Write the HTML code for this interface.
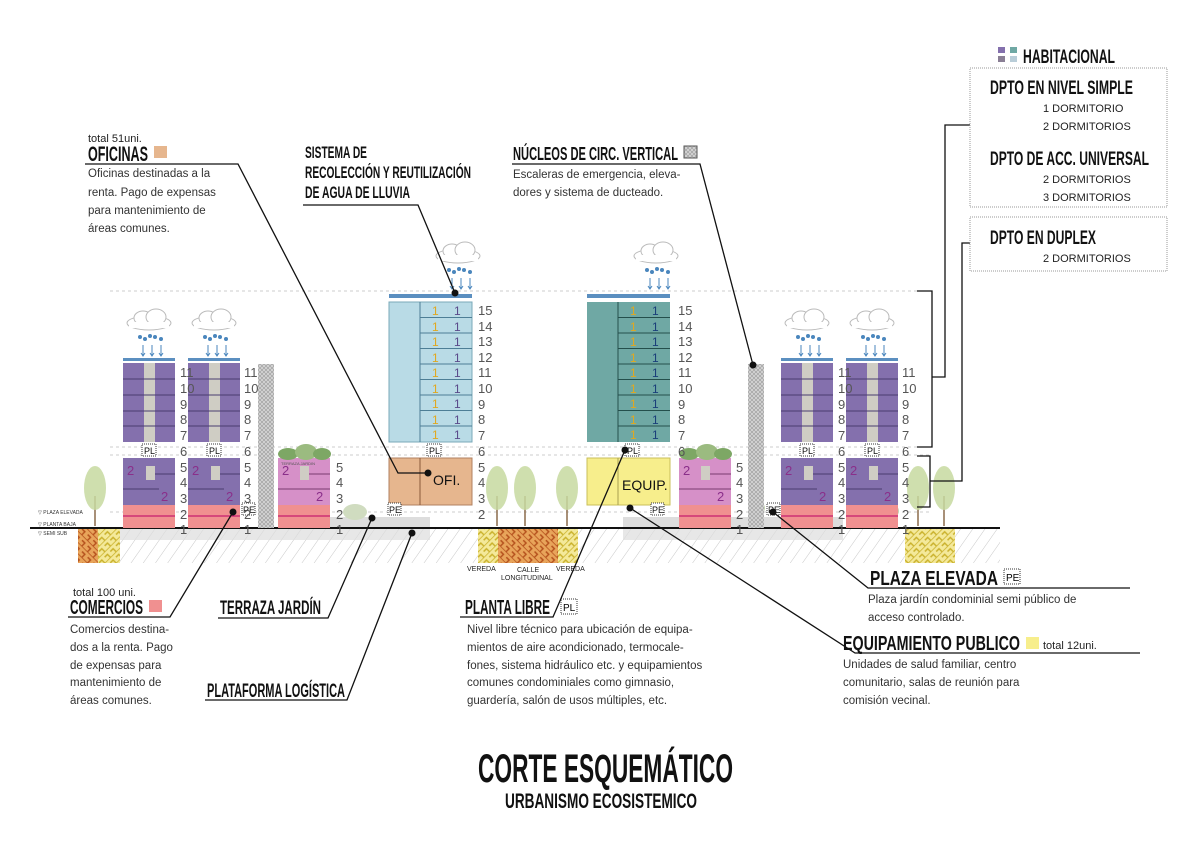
<!DOCTYPE html>
<html><head><meta charset="utf-8"><style>
html,body{margin:0;padding:0;background:#fff;}
svg{display:block;}
.n{font-family:"Liberation Sans",sans-serif;font-size:13px;fill:#555;}
.h{font-family:"Liberation Sans Narrow","Liberation Sans",sans-serif;fill:#111;font-weight:bold;}
.b{font-family:"Liberation Sans",sans-serif;font-size:11px;fill:#222;}
.s{font-family:"Liberation Sans",sans-serif;font-size:11.5px;fill:#333;}
</style></head><body>
<svg width="1200" height="848" viewBox="0 0 1200 848" xmlns="http://www.w3.org/2000/svg">
<defs>
<pattern id="hat" width="10" height="10" patternUnits="userSpaceOnUse" patternTransform="rotate(35)">
<rect width="10" height="10" fill="#fff"/><line x1="0" y1="0" x2="0" y2="10" stroke="#c8c8c8" stroke-width="1"/></pattern>
<pattern id="core" width="4" height="4" patternUnits="userSpaceOnUse">
<rect width="4" height="4" fill="#d4d4d4"/><path d="M0 0L4 4M4 0L0 4" stroke="#999" stroke-width="0.6"/></pattern>
<pattern id="bro" width="8" height="8" patternUnits="userSpaceOnUse" patternTransform="rotate(45)">
<rect width="8" height="8" fill="#e8a45a"/><path d="M0 0H8M0 4H4V8" stroke="#b4501c" stroke-width="1.4" fill="none"/></pattern>
<pattern id="yel" width="8" height="8" patternUnits="userSpaceOnUse" patternTransform="rotate(-45)">
<rect width="8" height="8" fill="#f4e99a"/><path d="M0 0H8M0 4H4V8" stroke="#c9b02a" stroke-width="1.4" fill="none"/></pattern>
<g id="rain">
<ellipse cx="26" cy="-40" rx="22" ry="7" fill="#fff" stroke="#bbb"/>
<ellipse cx="20" cy="-45" rx="9" ry="7" fill="#fff" stroke="#bbb"/>
<ellipse cx="33" cy="-46" rx="10" ry="8" fill="#fff" stroke="#bbb"/>
<rect x="6" y="-41" width="40" height="6" fill="#fff"/>
<g fill="#4a86bd"><circle cx="17" cy="-26" r="2"/><circle cx="22" cy="-24" r="2"/><circle cx="27" cy="-27" r="2"/><circle cx="32" cy="-26" r="2"/><circle cx="38" cy="-24" r="2"/></g>
<g stroke="#4a86bd" stroke-width="1"><path d="M20-18V-8M29-18V-8M38-18V-8"/></g>
<path d="M18-10L20-7L22-10M27-10L29-7L31-10M36-10L38-7L40-10" fill="none" stroke="#4a86bd"/>
</g>
<g id="pt">
<use href="#rain"/>
<rect x="0" y="-5" width="52" height="3" fill="#5b8fc0"/>
<rect x="0" y="0" width="52" height="79" fill="#8470ad"/>
<rect x="21" y="0" width="11" height="79" fill="#cfcdc4"/>
<path d="M0 16H52M0 32H52M0 48H52M0 63H52" stroke="#4a3d70"/>
<rect x="0" y="95" width="52" height="47" fill="#8470ad"/>
<path d="M24 111H52M0 126H36" stroke="#4a3d70"/>
<rect x="23" y="103" width="9" height="14" fill="#cfcdc4"/>
<text x="4" y="112" font-family="Liberation Sans,sans-serif" font-size="13" fill="#8a2f8a">2</text>
<text x="38" y="138" font-family="Liberation Sans,sans-serif" font-size="13" fill="#8a2f8a">2</text>
<rect x="0" y="142" width="52" height="23" fill="#f09090"/>
<path d="M0 153H52" stroke="#b06"/>
</g>
<g id="pk">
<rect x="0" y="95" width="52" height="47" fill="#d690c8"/>
<path d="M24 111H52M0 126H52" stroke="#7a3d70"/>
<rect x="22" y="103" width="9" height="14" fill="#cfcdc4"/>
<text x="4" y="112" font-family="Liberation Sans,sans-serif" font-size="13" fill="#8a2f8a">2</text>
<text x="38" y="138" font-family="Liberation Sans,sans-serif" font-size="13" fill="#8a2f8a">2</text>
<rect x="0" y="142" width="52" height="23" fill="#f09090"/>
<path d="M0 153H52" stroke="#b06"/>
<ellipse cx="10" cy="91" rx="10" ry="6" fill="#7da765"/><ellipse cx="28" cy="89" rx="11" ry="8" fill="#9bbb80"/><ellipse cx="44" cy="91" rx="9" ry="6" fill="#7da765"/>
</g>
<g id="tree"><line x1="0" y1="0" x2="0" y2="-30" stroke="#8a6a4a" stroke-width="1.5"/><ellipse cx="0" cy="-38" rx="11" ry="22" fill="#c7d9a0" opacity="0.85"/></g>
</defs>

<g stroke="#ccc" stroke-dasharray="3,3" fill="none">
<path d="M110 291H930M110 447H930M110 455H930M110 512H930"/>
</g>

<rect x="120" y="528" width="880" height="35" fill="url(#hat)"/>
<rect x="120" y="528" width="310" height="12" fill="#ddd" opacity="0.7"/>
<rect x="623" y="528" width="220" height="12" fill="#ddd" opacity="0.7"/>
<rect x="78" y="528" width="42" height="35" fill="url(#bro)"/>
<rect x="98" y="528" width="22" height="35" fill="url(#yel)"/>
<rect x="478" y="528" width="100" height="35" fill="url(#bro)"/>
<rect x="478" y="528" width="20" height="35" fill="url(#yel)"/>
<rect x="558" y="528" width="20" height="35" fill="url(#yel)"/>
<rect x="905" y="528" width="50" height="35" fill="url(#yel)"/>
<rect x="290" y="517" width="140" height="11" fill="#ddd"/>
<rect x="623" y="517" width="220" height="11" fill="#ddd"/>
<line x1="30" y1="528" x2="1000" y2="528" stroke="#111" stroke-width="2"/>
<g font-family="Liberation Sans,sans-serif" font-size="5" fill="#333">
<text x="38" y="514">▽ PLAZA ELEVADA</text><text x="38" y="526">▽ PLANTA BAJA</text><text x="38" y="535">▽ SEMI SUB</text></g>
<g font-family="Liberation Sans,sans-serif" font-size="7" fill="#222">
<text x="467" y="571">VEREDA</text><text x="517" y="572">CALLE</text><text x="501" y="580">LONGITUDINAL</text><text x="556" y="571">VEREDA</text></g>

<use href="#tree" x="95" y="526"/><use href="#tree" x="497" y="526"/><use href="#tree" x="525" y="526"/><use href="#tree" x="567" y="526"/><use href="#tree" x="918" y="526"/><use href="#tree" x="944" y="526"/>
<ellipse cx="298" cy="515" rx="8" ry="6" fill="#c7d9a0"/><ellipse cx="355" cy="512" rx="12" ry="8" fill="#d0dcc0"/>
<ellipse cx="860" cy="514" rx="14" ry="8" fill="#c5d4b0"/><ellipse cx="885" cy="511" rx="14" ry="9" fill="#c5d4b0"/>
<ellipse cx="758" cy="508" rx="7" ry="6" fill="#c5d4b0"/>

<use href="#pt" x="123" y="363"/>
<use href="#pt" x="188" y="363"/>
<rect x="258" y="364" width="16" height="164" fill="url(#core)"/>
<use href="#pk" x="278" y="363"/>
<text x="281" y="465" font-family="Liberation Sans,sans-serif" font-size="4" fill="#555">TERRAZA JARDIN</text>
<rect x="748" y="364" width="16" height="164" fill="url(#core)"/>
<use href="#pk" x="679" y="363"/>
<use href="#pt" x="781" y="363"/>
<use href="#pt" x="846" y="363"/>

<rect x="389" y="294" width="83" height="4" fill="#5b8fc0"/>
<use href="#rain" x="432" y="296"/>
<rect x="389" y="302" width="83" height="140" fill="#b9dbe6" stroke="#7aa8b8"/>
<path d="M420 302V442M420 317.5H472M420 333H472M420 348.5H472M420 364H472M420 379.5H472M420 395H472M420 410.5H472M420 426H472" stroke="#4d7e96"/>
<rect x="389" y="458" width="83" height="47" fill="#e6b68e" stroke="#b08060"/>
<line x1="420" y1="458" x2="420" y2="505" stroke="#8a5a3a"/>
<text x="433" y="485" font-family="Liberation Sans,sans-serif" font-size="14" fill="#111">OFI.</text>
<rect x="587" y="294" width="83" height="4" fill="#5b8fc0"/>
<use href="#rain" x="630" y="296"/>
<rect x="587" y="302" width="83" height="140" fill="#6fa8a4"/>
<path d="M618 302V442M618 317.5H670M618 333H670M618 348.5H670M618 364H670M618 379.5H670M618 395H670M618 410.5H670M618 426H670" stroke="#244f4c"/>
<rect x="587" y="458" width="83" height="47" fill="#f7ee8c" stroke="#c9bf5a"/>
<line x1="618" y1="458" x2="618" y2="505" stroke="#a8a050"/>
<text x="622" y="490" font-family="Liberation Sans,sans-serif" font-size="14" fill="#111">EQUIP.</text>
<g font-family="Liberation Sans,sans-serif" font-size="12">
<g fill="#e0a820">
<text x="432" y="315">1</text><text x="432" y="331">1</text><text x="432" y="346">1</text><text x="432" y="362">1</text><text x="432" y="377">1</text><text x="432" y="393">1</text><text x="432" y="408">1</text><text x="432" y="424">1</text><text x="432" y="439">1</text>
<text x="630" y="315">1</text><text x="630" y="331">1</text><text x="630" y="346">1</text><text x="630" y="362">1</text><text x="630" y="377">1</text><text x="630" y="393">1</text><text x="630" y="408">1</text><text x="630" y="424">1</text><text x="630" y="439">1</text></g>
<g fill="#5a4a8a">
<text x="454" y="315">1</text><text x="454" y="331">1</text><text x="454" y="346">1</text><text x="454" y="362">1</text><text x="454" y="377">1</text><text x="454" y="393">1</text><text x="454" y="408">1</text><text x="454" y="424">1</text><text x="454" y="439">1</text></g>
<g fill="#1a3f7a">
<text x="652" y="315">1</text><text x="652" y="331">1</text><text x="652" y="346">1</text><text x="652" y="362">1</text><text x="652" y="377">1</text><text x="652" y="393">1</text><text x="652" y="408">1</text><text x="652" y="424">1</text><text x="652" y="439">1</text></g>
</g>

<g font-family="Liberation Sans,sans-serif" font-size="9" fill="#111">
<g fill="#fff" stroke="#333" stroke-dasharray="1,1"><rect x="142" y="444" width="14" height="12"/><rect x="207" y="444" width="14" height="12"/><rect x="427" y="444" width="14" height="12"/><rect x="625" y="444" width="14" height="12"/><rect x="800" y="444" width="14" height="12"/><rect x="865" y="444" width="14" height="12"/><rect x="242" y="503" width="13" height="12"/><rect x="388" y="503" width="13" height="12"/><rect x="651" y="503" width="13" height="12"/><rect x="767" y="503" width="13" height="12"/></g>
<text x="144" y="454">PL</text><text x="209" y="454">PL</text><text x="429" y="454">PL</text><text x="627" y="454">PL</text><text x="802" y="454">PL</text><text x="867" y="454">PL</text>
<text x="243" y="513">PE</text><text x="389" y="513">PE</text><text x="652" y="513">PE</text><text x="768" y="513">PE</text>
</g>

<g class="n">
<text x="180" y="377">11</text><text x="180" y="393">10</text><text x="180" y="409">9</text><text x="180" y="424">8</text><text x="180" y="440">7</text><text x="180" y="456">6</text><text x="180" y="472">5</text><text x="180" y="487">4</text><text x="180" y="503">3</text><text x="180" y="519">2</text><text x="180" y="534">1</text>
<text x="244" y="377">11</text><text x="244" y="393">10</text><text x="244" y="409">9</text><text x="244" y="424">8</text><text x="244" y="440">7</text><text x="244" y="456">6</text><text x="244" y="472">5</text><text x="244" y="487">4</text><text x="244" y="503">3</text><text x="244" y="519">2</text><text x="244" y="534">1</text>
<text x="336" y="472">5</text><text x="336" y="487">4</text><text x="336" y="503">3</text><text x="336" y="519">2</text><text x="336" y="534">1</text>
<text x="478" y="315">15</text><text x="478" y="331">14</text><text x="478" y="346">13</text><text x="478" y="362">12</text><text x="478" y="377">11</text><text x="478" y="393">10</text><text x="478" y="409">9</text><text x="478" y="424">8</text><text x="478" y="440">7</text><text x="478" y="456">6</text><text x="478" y="472">5</text><text x="478" y="487">4</text><text x="478" y="503">3</text><text x="478" y="519">2</text>
<text x="678" y="315">15</text><text x="678" y="331">14</text><text x="678" y="346">13</text><text x="678" y="362">12</text><text x="678" y="377">11</text><text x="678" y="393">10</text><text x="678" y="409">9</text><text x="678" y="424">8</text><text x="678" y="440">7</text><text x="678" y="456">6</text>
<text x="736" y="472">5</text><text x="736" y="487">4</text><text x="736" y="503">3</text><text x="736" y="519">2</text><text x="736" y="534">1</text>
<text x="838" y="377">11</text><text x="838" y="393">10</text><text x="838" y="409">9</text><text x="838" y="424">8</text><text x="838" y="440">7</text><text x="838" y="456">6</text><text x="838" y="472">5</text><text x="838" y="487">4</text><text x="838" y="503">3</text><text x="838" y="519">2</text><text x="838" y="534">1</text>
<text x="902" y="377">11</text><text x="902" y="393">10</text><text x="902" y="409">9</text><text x="902" y="424">8</text><text x="902" y="440">7</text><text x="902" y="456">6</text><text x="902" y="472">5</text><text x="902" y="487">4</text><text x="902" y="503">3</text><text x="902" y="519">2</text><text x="902" y="534">1</text>
</g>

<g stroke="#111" stroke-width="1.3" fill="none">
<path d="M85 164H238L398 473H428"/>
<path d="M303 205H418L455 293"/>
<path d="M512 164H700L753 365"/>
<path d="M68 617H170L233 512"/>
<path d="M218 618H328L372 518"/>
<path d="M205 700H347L412 533"/>
<path d="M460 617H553L625 450"/>
<path d="M1130 588H868L773 512"/>
<path d="M1140 653H855L630 508"/>
<path d="M917 291H932V447H917M932 377H945V125H970"/>
<path d="M917 456H930V507H917M930 481H962V243H970"/>
</g>
<g fill="#111"><circle cx="428" cy="473" r="3.5"/><circle cx="455" cy="293" r="3.5"/><circle cx="753" cy="365" r="3.5"/><circle cx="233" cy="512" r="3.5"/><circle cx="372" cy="518" r="3.5"/><circle cx="412" cy="533" r="3.5"/><circle cx="625" cy="450" r="3.5"/><circle cx="773" cy="512" r="3.5"/><circle cx="630" cy="508" r="3.5"/></g>

<text x="88" y="142" class="b" font-size="10">total 51uni.</text>
<text x="88" y="161" class="h" font-size="21" textLength="60" lengthAdjust="spacingAndGlyphs">OFICINAS</text>
<rect x="154" y="146" width="13" height="12" fill="#e6b68e"/>
<text class="s"><tspan x="88" y="177">Oficinas destinadas a la</tspan><tspan x="88" y="196">renta. Pago de expensas</tspan><tspan x="88" y="214">para mantenimiento de</tspan><tspan x="88" y="232">áreas comunes.</tspan></text>

<text class="h" font-size="17"><tspan x="305" y="158" textLength="62" lengthAdjust="spacingAndGlyphs">SISTEMA DE</tspan><tspan x="305" y="178" textLength="166" lengthAdjust="spacingAndGlyphs">RECOLECCIÓN Y REUTILIZACIÓN</tspan><tspan x="305" y="198" textLength="105" lengthAdjust="spacingAndGlyphs">DE AGUA DE LLUVIA</tspan></text>

<text x="513" y="160" class="h" font-size="18" textLength="165" lengthAdjust="spacingAndGlyphs">NÚCLEOS DE CIRC. VERTICAL</text>
<rect x="684" y="146" width="13" height="12" fill="url(#core)" stroke="#555"/>
<text class="s"><tspan x="513" y="178">Escaleras de emergencia, eleva-</tspan><tspan x="513" y="196">dores y sistema de ducteado.</tspan></text>

<text x="73" y="596" class="b" font-size="10">total 100 uni.</text>
<text x="70" y="614" class="h" font-size="20" textLength="73" lengthAdjust="spacingAndGlyphs">COMERCIOS</text>
<rect x="149" y="600" width="13" height="12" fill="#f09090"/>
<text class="s"><tspan x="70" y="633">Comercios destina-</tspan><tspan x="70" y="651">dos a la renta. Pago</tspan><tspan x="70" y="669">de expensas para</tspan><tspan x="70" y="686">mantenimiento de</tspan><tspan x="70" y="704">áreas comunes.</tspan></text>

<text x="220" y="614" class="h" font-size="19" textLength="101" lengthAdjust="spacingAndGlyphs">TERRAZA JARDÍN</text>
<text x="207" y="697" class="h" font-size="19" textLength="138" lengthAdjust="spacingAndGlyphs">PLATAFORMA LOGÍSTICA</text>

<text x="465" y="614" class="h" font-size="20" textLength="85" lengthAdjust="spacingAndGlyphs">PLANTA LIBRE</text>
<rect x="561" y="599" width="16" height="15" fill="#fff" stroke="#333" stroke-dasharray="1,1"/>
<text x="563" y="611" font-family="Liberation Sans,sans-serif" font-size="10">PL</text>
<text class="s"><tspan x="467" y="633">Nivel libre técnico para ubicación de equipa-</tspan><tspan x="467" y="651">mientos de aire acondicionado, termocale-</tspan><tspan x="467" y="669">fones, sistema hidráulico etc. y equipamientos</tspan><tspan x="467" y="686">comunes condominiales como gimnasio,</tspan><tspan x="467" y="704">guardería, salón de usos múltiples, etc.</tspan></text>

<text x="870" y="585" class="h" font-size="20" textLength="128" lengthAdjust="spacingAndGlyphs">PLAZA ELEVADA</text>
<rect x="1004" y="569" width="16" height="15" fill="#fff" stroke="#333" stroke-dasharray="1,1"/>
<text x="1006" y="581" font-family="Liberation Sans,sans-serif" font-size="10">PE</text>
<text class="s"><tspan x="868" y="603">Plaza jardín condominial semi público de</tspan><tspan x="868" y="621">acceso controlado.</tspan></text>

<text x="843" y="650" class="h" font-size="20" textLength="177" lengthAdjust="spacingAndGlyphs">EQUIPAMIENTO PUBLICO</text>
<rect x="1026" y="637" width="13" height="12" fill="#f7ee8c"/>
<text x="1043" y="649" class="b" font-size="10">total 12uni.</text>
<text class="s"><tspan x="843" y="668">Unidades de salud familiar, centro</tspan><tspan x="843" y="686">comunitario, salas de reunión para</tspan><tspan x="843" y="704">comisión vecinal.</tspan></text>

<rect x="998" y="47" width="7" height="6" fill="#8470ad"/><rect x="1010" y="47" width="7" height="6" fill="#6fa8a4"/>
<rect x="998" y="56" width="7" height="6" fill="#8a7f95"/><rect x="1010" y="56" width="7" height="6" fill="#b9cdd8"/>
<text x="1023" y="63" class="h" font-size="19" textLength="92" lengthAdjust="spacingAndGlyphs">HABITACIONAL</text>
<rect x="970" y="68" width="197" height="139" fill="none" stroke="#999" stroke-dasharray="1,1"/>
<rect x="970" y="217" width="197" height="54" fill="none" stroke="#999" stroke-dasharray="1,1"/>
<text x="990" y="94" class="h" font-size="19" textLength="143" lengthAdjust="spacingAndGlyphs">DPTO EN NIVEL SIMPLE</text>
<text x="1043" y="112" class="b">1 DORMITORIO</text><text x="1043" y="130" class="b">2 DORMITORIOS</text>
<text x="990" y="165" class="h" font-size="19" textLength="159" lengthAdjust="spacingAndGlyphs">DPTO DE ACC. UNIVERSAL</text>
<text x="1043" y="183" class="b">2 DORMITORIOS</text><text x="1043" y="201" class="b">3 DORMITORIOS</text>
<text x="990" y="244" class="h" font-size="19" textLength="106" lengthAdjust="spacingAndGlyphs">DPTO EN DUPLEX</text>
<text x="1043" y="262" class="b">2 DORMITORIOS</text>

<text x="478" y="782" class="h" font-size="40" textLength="255" lengthAdjust="spacingAndGlyphs">CORTE  ESQUEMÁTICO</text>
<text x="505" y="808" class="h" font-size="21" textLength="192" lengthAdjust="spacingAndGlyphs">URBANISMO ECOSISTEMICO</text>
</svg>
</body></html>
